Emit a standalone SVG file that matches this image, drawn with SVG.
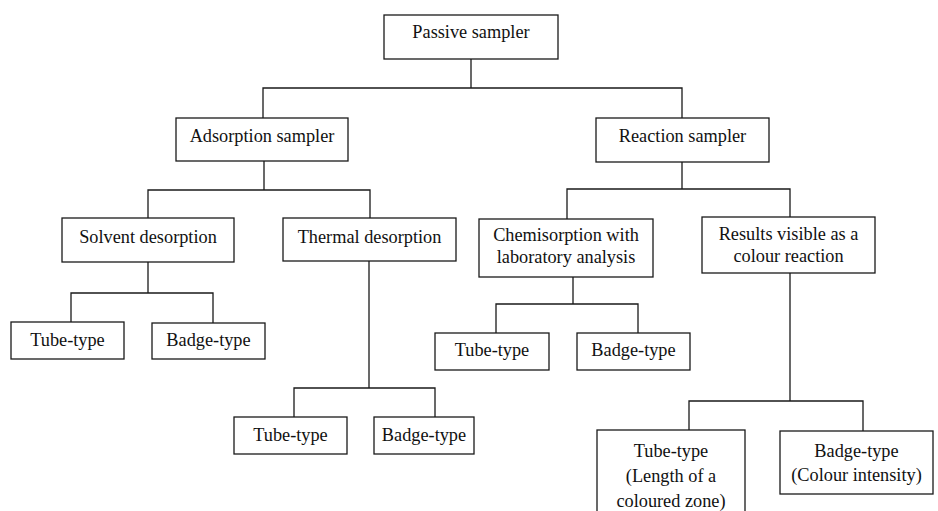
<svg xmlns="http://www.w3.org/2000/svg" width="938" height="511" viewBox="0 0 938 511">
<style>
rect{fill:#fff;stroke:#1a1a1a;stroke-width:1.3}
text{font-family:"Liberation Serif","Times New Roman",serif;font-size:18.3px;fill:#111;text-anchor:middle}
#connectors path{fill:none;stroke:#1a1a1a;stroke-width:1.3}
</style>
<rect x="0" y="0" width="938" height="511" style="fill:#fff;stroke:none"/>
<g id="connectors">
<path d="M471,59V88M263,118V88H682V118"/>
<path d="M264,161V190M148,218V190H370V218"/>
<path d="M682,162V189M567,219V189H790V217"/>
<path d="M148,262V293M71,322V293H213V323"/>
<path d="M369,261V388M294,417V388H435V417"/>
<path d="M573,277V304M496,333V304H638V333"/>
<path d="M790,273V401M689,430V401H863V431"/>
</g>
<g id="passive"><rect x="384" y="15" width="174" height="44"/><text x="471" y="38">Passive sampler</text></g>
<g id="adsorption"><rect x="176" y="118" width="172" height="43"/><text x="262" y="142">Adsorption sampler</text></g>
<g id="reaction"><rect x="596" y="118" width="173" height="44"/><text x="682.5" y="142">Reaction sampler</text></g>
<g id="solvent"><rect x="62" y="218" width="172" height="44"/><text x="148" y="243">Solvent desorption</text></g>
<g id="thermal"><rect x="283" y="218" width="173" height="43"/><text x="369.5" y="243">Thermal desorption</text></g>
<g id="chemisorption"><rect x="479" y="219" width="174" height="58"/><text x="566" y="241">Chemisorption with</text><text x="566" y="263">laboratory analysis</text></g>
<g id="results"><rect x="702" y="217" width="173" height="56"/><text x="788.5" y="240">Results visible as a</text><text x="788.5" y="262">colour reaction</text></g>
<g id="solvent-tube"><rect x="11" y="322" width="113" height="37"/><text x="67.5" y="346">Tube-type</text></g>
<g id="solvent-badge"><rect x="152" y="323" width="113" height="36"/><text x="208.5" y="346">Badge-type</text></g>
<g id="chem-tube"><rect x="435" y="333" width="114" height="37"/><text x="492" y="356">Tube-type</text></g>
<g id="chem-badge"><rect x="577" y="333" width="113" height="37"/><text x="633.5" y="356">Badge-type</text></g>
<g id="thermal-tube"><rect x="234" y="417" width="113" height="37"/><text x="290.5" y="441">Tube-type</text></g>
<g id="thermal-badge"><rect x="374" y="417" width="100" height="37"/><text x="424" y="441">Badge-type</text></g>
<g id="colour-tube"><rect x="597" y="430" width="148" height="90"/><text x="671" y="457">Tube-type</text><text x="671" y="482">(Length of a</text><text x="671" y="507">coloured zone)</text></g>
<g id="colour-badge"><rect x="780" y="431" width="153" height="63"/><text x="856.5" y="457">Badge-type</text><text x="856.5" y="481">(Colour intensity)</text></g>
</svg>
